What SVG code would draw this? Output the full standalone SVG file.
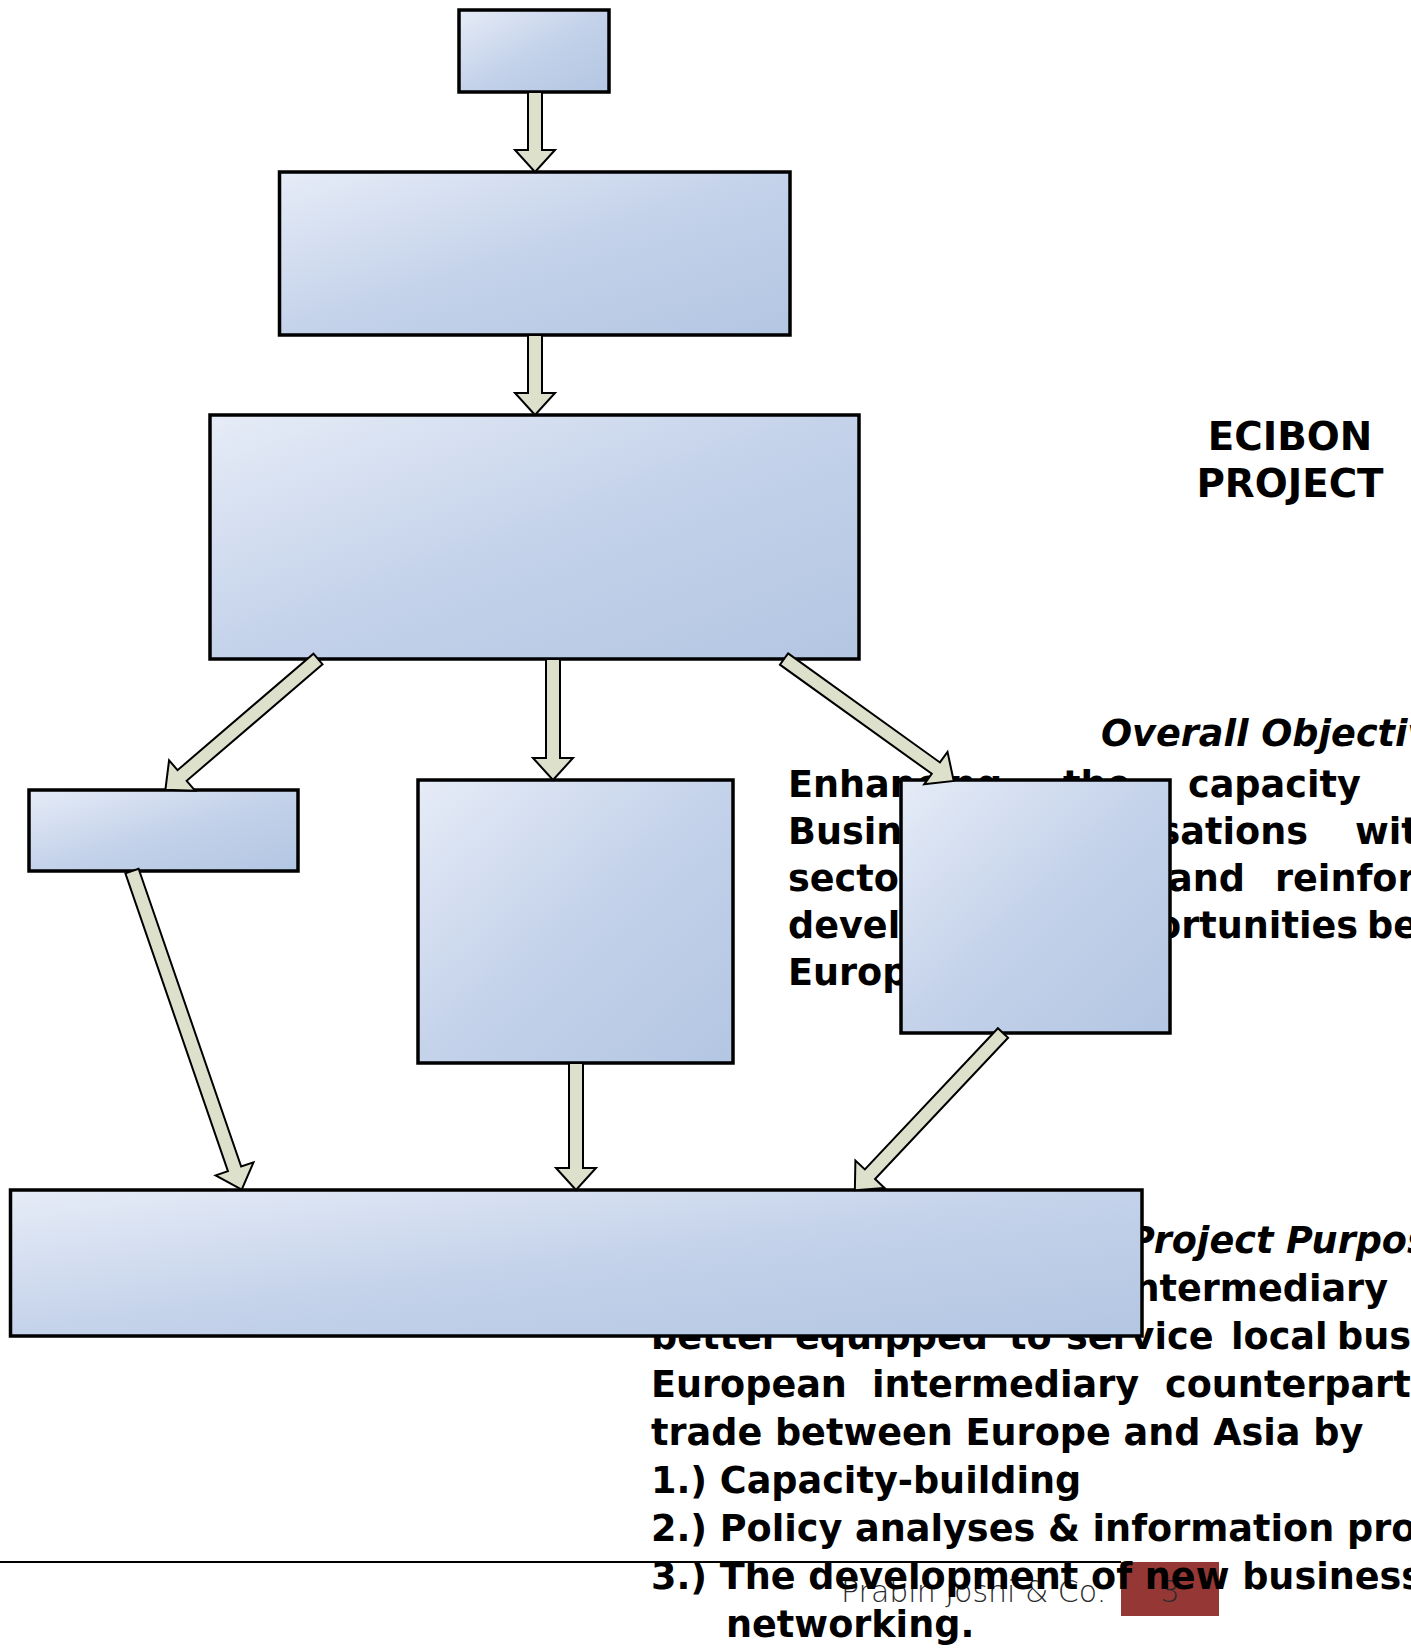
<svg xmlns="http://www.w3.org/2000/svg" width="1411" height="1648" viewBox="0 0 1411 1648">
<defs>
<linearGradient id="boxfill" x1="0" y1="0" x2="1" y2="1">
<stop offset="0" stop-color="#e6ecf7"/>
<stop offset="0.5" stop-color="#c4d2ea"/>
<stop offset="1" stop-color="#b3c6e2"/>
</linearGradient>
<style>
.box{fill:url(#boxfill);stroke:#000;stroke-width:3.5}
.arr{fill:#dde1cb;stroke:#000;stroke-width:2;stroke-linejoin:miter}
.t{font-family:"DejaVu Sans",Verdana,sans-serif;font-weight:bold;font-size:36.6px;fill:#000}
.h{font-size:38.8px}
.it{font-style:italic}
.ft{font-family:"DejaVu Sans",Verdana,sans-serif;font-weight:200;font-size:30px;fill:#2a2a2a}
</style>
</defs>
<rect width="1411" height="1648" fill="#fff"/>

<g id="footer">
<line x1="0" y1="1562" x2="1121" y2="1562" stroke="#000" stroke-width="2"/>
<rect x="1121" y="1562" width="98" height="54" fill="#953735"/>
<text class="ft" x="841" y="1602">Prabin Joshi &amp; Co.</text>
<text class="ft" x="1170" y="1602" text-anchor="middle">3</text>
</g>

<g id="title">
<text class="t h" x="1290" y="450" text-anchor="middle">ECIBON</text>
<text class="t h" x="1290" y="497" text-anchor="middle">PROJECT</text>
</g>

<g id="objective-text">
<text class="t it" x="1101" y="746">Overall Objective</text>
<text class="t" x="788" y="797">Enhancing</text>
<text class="t" x="1063" y="797">the</text>
<text class="t" x="1188" y="797">capacity</text>
<text class="t" x="788" y="844">Business</text>
<text class="t" x="1308" y="844" text-anchor="end">Organisations</text>
<text class="t" x="1355" y="844">within</text>
<text class="t" x="788" y="891">sector</text>
<text class="t" x="1168" y="891">and</text>
<text class="t" x="1275" y="891">reinforcing</text>
<text class="t" x="788" y="938">developing</text>
<text class="t" x="1358" y="938" text-anchor="end">opportunities</text>
<text class="t" x="1367" y="938">between</text>
<text class="t" x="788" y="985">Europe</text>
</g>

<g id="purpose-text">
<text class="t it" x="1128" y="1253">Project Purpose</text>
<text class="t" x="1388" y="1301" text-anchor="end">Intermediary</text>
<text class="t" x="651" y="1349">better</text>
<text class="t" x="795" y="1349">equipped</text>
<text class="t" x="1009" y="1349">to</text>
<text class="t" x="1066" y="1349">service</text>
<text class="t" x="1231" y="1349">local</text>
<text class="t" x="1337" y="1349">business</text>
<text class="t" x="651" y="1397">European</text>
<text class="t" x="872" y="1397">intermediary</text>
<text class="t" x="1165" y="1397">counterparts</text>
<text class="t" x="651" y="1445">trade between Europe and Asia by</text>
<text class="t" x="651" y="1493">1.) Capacity-building</text>
<text class="t" x="651" y="1541">2.) Policy analyses &amp; information provision</text>
<text class="t" x="651" y="1589">3.) The development of new business</text>
<text class="t" x="726" y="1637">networking.</text>
</g>

<g id="node-top"><rect class="box" x="459" y="10" width="150" height="82"/></g>
<g id="node-second"><rect class="box" x="279.5" y="172" width="510.5" height="163"/></g>
<g id="node-third"><rect class="box" x="210" y="415" width="649" height="244"/></g>
<g id="node-left"><rect class="box" x="29" y="790" width="269" height="81"/></g>
<g id="node-middle"><rect class="box" x="418" y="780" width="315" height="283"/></g>
<g id="node-right"><rect class="box" x="901" y="780" width="269" height="253"/></g>
<g id="node-bottom"><rect class="box" x="10.5" y="1190" width="1131.5" height="146"/></g>

<g id="connectors">
<polygon class="arr" transform="translate(535,92) rotate(90)" points="0,-7 58,-7 58,-20 80,0 58,20 58,7 0,7"/>
<polygon class="arr" transform="translate(535,335) rotate(90)" points="0,-7 58,-7 58,-20 80,0 58,20 58,7 0,7"/>
<polygon class="arr" transform="translate(318,659) rotate(139.4)" points="0,-7 179,-7 179,-20 201,0 179,20 179,7 0,7"/>
<polygon class="arr" transform="translate(553,659) rotate(90)" points="0,-7 99,-7 99,-20 121,0 99,20 99,7 0,7"/>
<polygon class="arr" transform="translate(784,659) rotate(35.7)" points="0,-7 187,-7 187,-20 209,0 187,20 187,7 0,7"/>
<polygon class="arr" transform="translate(132,871) rotate(71)" points="0,-7 315,-7 315,-20 337,0 315,20 315,7 0,7"/>
<polygon class="arr" transform="translate(576,1063) rotate(90)" points="0,-7 105,-7 105,-20 127,0 105,20 105,7 0,7"/>
<polygon class="arr" transform="translate(1003,1033) rotate(133.3)" points="0,-7 194,-7 194,-20 216,0 194,20 194,7 0,7"/>
</g>
</svg>
